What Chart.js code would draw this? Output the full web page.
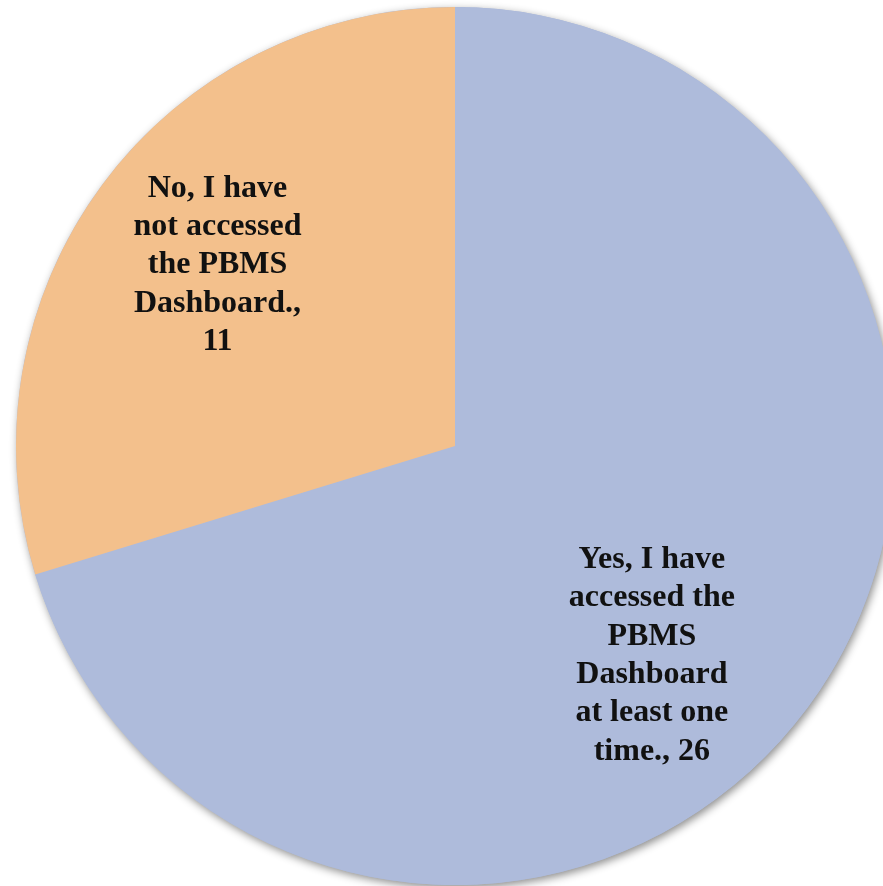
<!DOCTYPE html>
<html>
<head>
<meta charset="utf-8">
<script src="https://cdn.jsdelivr.net/npm/chart.js@4.4.1/dist/chart.umd.min.js"></script>
<style>
  html, body { margin: 0; padding: 0; background: #fff; overflow: hidden; }
  #wrap { position: absolute; left: 0; top: 0; width: 910px; height: 886px; }
</style>
</head>
<body>
<div id="wrap"><canvas id="pie" width="910" height="886"></canvas></div>
<script>
const categories = [
    'Yes, I have accessed the PBMS Dashboard at least one time.',
    'No, I have not accessed the PBMS Dashboard.'
];
const values = [26, 11];
const labelLines = [
    ['Yes, I have', 'accessed the', 'PBMS', 'Dashboard', 'at least one', 'time., 26'],
    ['No, I have', 'not accessed', 'the PBMS', 'Dashboard.,', '11']
];
const colors = ['#aebbdb', '#f3c08c'];

// where each label sits inside its slice
const labelPos = [
    { dist: 0.655, turn: 10.3 },
    { dist: 0.68, turn: 0.8 }
];

const shadow = {
    id: 'shadow',
    beforeDatasetsDraw(chart) {
        const arc = chart.getDatasetMeta(0).data[0];
        if (!arc) return;
        const { x, y, outerRadius } = arc.getProps(['x', 'y', 'outerRadius'], true);
        const ctx = chart.ctx;
        ctx.save();
        ctx.shadowColor = 'rgba(0, 0, 0, 0.45)';
        ctx.shadowBlur = 8;
        ctx.shadowOffsetX = 2;
        ctx.shadowOffsetY = 3;
        ctx.fillStyle = colors[0];
        ctx.beginPath();
        ctx.arc(x, y, outerRadius, 0, Math.PI * 2);
        ctx.fill();
        ctx.restore();
    }
};

const sliceLabels = {
    id: 'sliceLabels',
    afterDatasetsDraw(chart) {
        const ctx = chart.ctx;
        ctx.save();
        ctx.font = 'bold 32px "Liberation Serif"';
        ctx.fillStyle = '#111';
        ctx.textAlign = 'center';
        ctx.textBaseline = 'middle';
        chart.getDatasetMeta(0).data.forEach((arc, i) => {
            const p = arc.getProps(['x', 'y', 'startAngle', 'endAngle', 'outerRadius'], true);
            const a = (p.startAngle + p.endAngle) / 2 + labelPos[i].turn * Math.PI / 180;
            const r = p.outerRadius * labelPos[i].dist;
            const cx = p.x + Math.cos(a) * r;
            const cy = p.y + Math.sin(a) * r;
            const lines = labelLines[i];
            const lh = 38.3;
            lines.forEach((t, j) => ctx.fillText(t, cx, cy + (j - (lines.length - 1) / 2) * lh));
        });
        ctx.restore();
    }
};

new Chart(document.getElementById('pie'), {
    type: 'pie',
    data: {
        labels: categories,
        datasets: [{
            data: values,
            backgroundColor: colors,
            borderWidth: 0
        }]
    },
    options: {
        responsive: false,
        animation: false,
        layout: { padding: { top: 7, bottom: 1, left: 0, right: 0 } },
        plugins: {
            legend: { display: false },
            tooltip: { enabled: false }
        }
    },
    plugins: [shadow, sliceLabels]
});
</script>
</body>
</html>
